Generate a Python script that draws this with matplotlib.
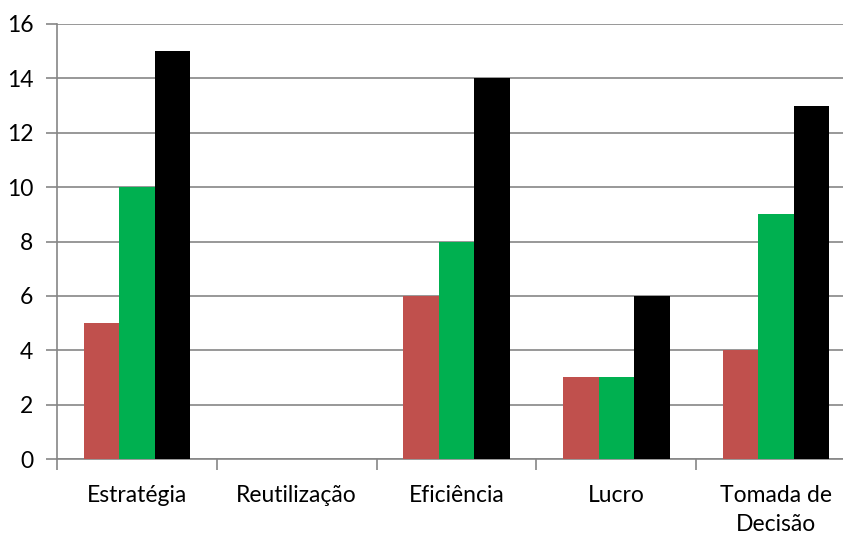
import matplotlib
matplotlib.use("Agg")
import matplotlib.pyplot as plt
import numpy as np

categories = ["Estratégia", "Reutilização", "Eficiência", "Lucro", "Tomada de\nDecisão"]
serie_vermelha = [5, 0, 6, 3, 4]
serie_verde = [10, 0, 8, 3, 9]
serie_preta = [15, 0, 14, 6, 13]
y_ticks = [0, 2, 4, 6, 8, 10, 12, 14, 16]

colors = ["#C0504D", "#00B050", "#000000"]
grid_color = "#868686"

plt.rcParams['font.family'] = ['Lato', 'DejaVu Sans']

fig = plt.figure(figsize=(8.43, 5.38), dpi=100)
W, H = 843, 538
left, right, top, bottom = 57, 856, 24, 459
ax = fig.add_axes([left / W, 1 - bottom / H, (right - left) / W, (bottom - top) / H])

x = np.arange(len(categories))
bw = 1 / 4.5
for i, (vals, c) in enumerate(zip([serie_vermelha, serie_verde, serie_preta], colors)):
    ax.bar(x + (i - 1) * bw, vals, width=bw, color=c, linewidth=0, zorder=3)

ax.set_xlim(-0.5, len(categories) - 0.5)
ax.set_ylim(0, 16)
ax.set_yticks(y_ticks)
ax.yaxis.grid(True, color=grid_color, linewidth=1.2, zorder=0)
ax.set_axisbelow(True)

ax.set_xticks(np.arange(len(categories) + 1) - 0.5)
ax.set_xticklabels([])
ax.set_xticks(x, minor=True)
ax.set_xticklabels(categories, minor=True, fontsize=16.5, linespacing=1.45, va='top')
ax.tick_params(axis='x', which='minor', length=0, pad=19)
ax.tick_params(axis='x', which='major', length=8, width=1.2, color=grid_color, direction='out')
ax.tick_params(axis='y', length=8, width=1.2, color=grid_color, direction='out', labelsize=16.5, pad=9)

for s in ['top', 'right']:
    ax.spines[s].set_visible(False)
for s in ['left', 'bottom']:
    ax.spines[s].set_color(grid_color)
    ax.spines[s].set_linewidth(1.2)

fig.savefig("out.png", dpi=100)
